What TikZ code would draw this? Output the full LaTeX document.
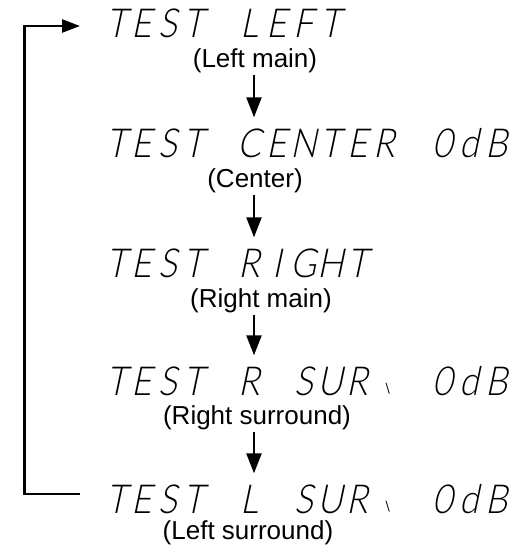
\documentclass[tikz,border=0pt]{standalone}
\usepackage{fontspec}
\setmainfont{Liberation Sans}
\newfontfamily\lcdfont[FakeSlant=0.21,FakeStretch=0.88]{Lato Light}
\newfontfamily\tickfont[FakeSlant=0.1]{Lato}
\usetikzlibrary{arrows.meta}
\newcommand\lcA[1]{\makebox[26pt][c]{#1}}
\newcommand\lcB[1]{\makebox[27pt][c]{#1}}
\newcommand\lcdtick{\makebox[58pt][l]{\hspace{13pt}\raisebox{2pt}{\tickfont\fontsize{14}{14}\selectfont\textbackslash}}}
\newcommand\testw{\lcA{T}\lcA{E}\lcA{S}\lcA{T}\hspace{29pt}}
\begin{document}
\begin{tikzpicture}[x=1pt,y=-1pt,
  disp/.style={anchor=base west,inner sep=0pt,text height=29pt,text depth=0pt,
    font=\lcdfont\fontsize{40}{40}\selectfont},
  lbl/.style={anchor=base,inner sep=0pt,text height=19pt,text depth=5.5pt,
    font=\fontsize{26}{30}\selectfont},
  flow/.style={line width=2.4pt,-{Triangle[width=15pt,length=20pt]},
    shorten <=2pt,shorten >=10.5pt},
  back/.style={line width=2.6pt,-{Triangle[width=13pt,length=18pt]}}]
\path (0,0) rectangle (517,547);
\node[disp] (d1) at (103,37) {\testw\lcB{L}\lcB{E}\lcB{F}\lcB{T}};
\node[lbl] (l1) at (255,67.5) {(Left main)};
\node[disp] (d2) at (103,157) {\testw\lcB{C}\lcB{E}\lcB{N}\lcB{T}\lcB{E}\lcB{R}\hspace{31pt}\lcB{0}\lcB{d}\lcB{B}};
\node[lbl] (l2) at (255,187.5) {(Center)};
\node[disp] (d3) at (103,277) {\testw\lcB{R}\lcB{I}\lcB{G}\lcB{H}\lcB{T}};
\node[lbl] (l3) at (261,307.5) {(Right main)};
\node[disp] (d4) at (103,395) {\testw\lcB{R}\lcB{}\lcB{S}\lcB{U}\lcB{R}\lcdtick\lcB{0}\lcB{d}\lcB{B}};
\node[lbl] (l4) at (257,424.5) {(Right surround)};
\node[disp] (d5) at (103,513) {\testw\lcB{L}\lcB{}\lcB{S}\lcB{U}\lcB{R}\lcdtick\lcB{0}\lcB{d}\lcB{B}};
\node[lbl] (l5) at (248,539.5) {(Left surround)};
\coordinate (ax) at (254,0);
\draw[flow] (l1.south -| ax) -- (ax |- d2.north);
\draw[flow] (l2.south -| ax) -- (ax |- d3.north);
\draw[flow] (l3.south -| ax) -- (ax |- d4.north);
\draw[flow] (l4.south -| ax) -- (ax |- d5.north);
\coordinate (lx) at (24.5,0);
\coordinate (topc) at ([yshift=-3.5pt]d1.west);
\coordinate (botc) at ([yshift=4.5pt]d5.west);
\draw[back] ([xshift=-23pt]botc) -| (lx |- topc) -- ([xshift=-23pt]topc);
\end{tikzpicture}
\end{document}
